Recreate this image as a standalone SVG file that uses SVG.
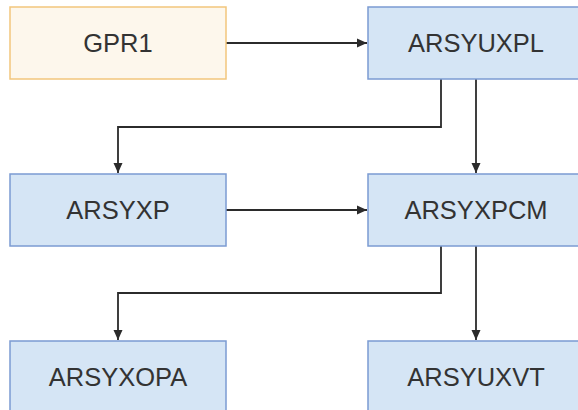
<svg xmlns="http://www.w3.org/2000/svg" width="578" height="410" viewBox="0 0 578 410">
<defs>
<marker id="ah" viewBox="0 0 10 10" refX="10" refY="5" markerWidth="10" markerHeight="10" markerUnits="userSpaceOnUse" orient="auto">
<path d="M0,0.5 L10,5 L0,9.5 Z" fill="#2b2b2b"/>
</marker>
<style>
.blue{fill:#d5e5f5;stroke:#7b9bd2;stroke-width:1.5}
.org{fill:#fdf7ec;stroke:#f2c67c;stroke-width:1.5}
.lbl{font-family:"Liberation Sans",Arial,sans-serif;font-size:25.5px;fill:#333;text-anchor:middle}
.c{fill:none;stroke:#2b2b2b;stroke-width:1.8;marker-end:url(#ah)}
</style>
</defs>
<rect width="578" height="410" fill="#fff"/>
<g id="connectors">
<path class="c" d="M226,43 H367"/>
<path class="c" d="M441,79 V127 H118 V173"/>
<path class="c" d="M476,79 V173"/>
<path class="c" d="M226,210 H367"/>
<path class="c" d="M441,246 V293 H118 V340"/>
<path class="c" d="M476,246 V340"/>
</g>
<g id="GPR1"><rect class="org" x="10" y="7" width="216" height="72"/><text class="lbl" x="118" y="52">GPR1</text></g>
<g id="ARSYUXPL"><rect class="blue" x="368" y="7" width="216" height="72"/><text class="lbl" x="476" y="52">ARSYUXPL</text></g>
<g id="ARSYXP"><rect class="blue" x="10" y="174" width="216" height="72"/><text class="lbl" x="118" y="219">ARSYXP</text></g>
<g id="ARSYXPCM"><rect class="blue" x="368" y="174" width="216" height="72"/><text class="lbl" x="476" y="219">ARSYXPCM</text></g>
<g id="ARSYXOPA"><rect class="blue" x="10" y="341" width="216" height="72"/><text class="lbl" x="118" y="386">ARSYXOPA</text></g>
<g id="ARSYUXVT"><rect class="blue" x="368" y="341" width="216" height="72"/><text class="lbl" x="476" y="386">ARSYUXVT</text></g>
</svg>
